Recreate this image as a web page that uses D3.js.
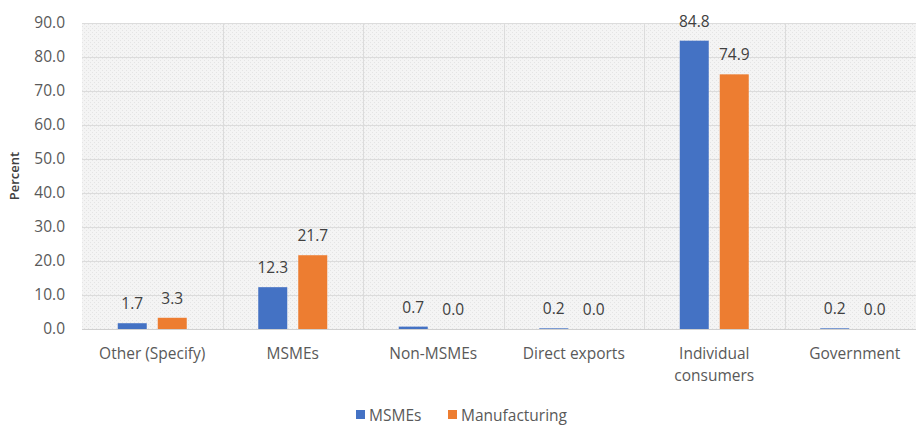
<!DOCTYPE html>
<html><head><meta charset="utf-8">
<script src="https://cdn.jsdelivr.net/npm/d3@7"></script>
<style>
html,body{margin:0;padding:0;background:#fff;}
svg{display:block;font-family:"Open Sans",sans-serif;}
</style></head>
<body><svg id="chart" width="916" height="425"></svg>
<script>
const categories = [["Other (Specify)"], ["MSMEs"], ["Non-MSMEs"], ["Direct exports"], ["Individual", "consumers"], ["Government"]];
const seriesNames = ["MSMEs", "Manufacturing"];
const msmeValues = [1.7, 12.3, 0.7, 0.2, 84.8, 0.2];
const manufacturingValues = [3.3, 21.7, 0.0, 0.0, 74.9, 0.0];
const yTicks = [0, 10, 20, 30, 40, 50, 60, 70, 80, 90];
const colors = ["#4472C4", "#ED7D31"];

const svg = d3.select("#chart");
const W = 916, H = 425;
const m = {left: 82, right: -9, top: 23, bottom: 96};
const plotW = W - m.left - m.right, plotH = H - m.top - m.bottom;
const FS = 15.5;

const defs = svg.append("defs");
const pat = defs.append("pattern").attr("id","hatch").attr("width",4).attr("height",4)
  .attr("patternUnits","userSpaceOnUse");
pat.append("rect").attr("width",4).attr("height",4).attr("fill","#f4f4f4");
pat.append("rect").attr("x",0).attr("y",0).attr("width",1).attr("height",1).attr("fill","#e4e4e4");
pat.append("rect").attr("x",2).attr("y",2).attr("width",1).attr("height",1).attr("fill","#e4e4e4");

const catKeys = categories.map(c => c.join(" "));
const x0 = d3.scaleBand().domain(catKeys).range([m.left, m.left + plotW]).padding(0);
const groupW = 69;
const x1 = d3.scaleBand().domain(seriesNames)
  .range([(x0.bandwidth() - groupW) / 2, (x0.bandwidth() + groupW) / 2])
  .paddingInner(0.275).paddingOuter(0);
const y = d3.scaleLinear().domain([0, 90]).range([m.top + plotH, m.top]);

const g = svg.append("g");
g.append("rect").attr("x", m.left).attr("y", m.top).attr("width", plotW).attr("height", plotH)
  .attr("fill", "url(#hatch)");

g.selectAll(".hg").data(yTicks).join("line")
  .attr("x1", m.left).attr("x2", m.left + plotW)
  .attr("y1", d => Math.round(y(d)) + 0.5).attr("y2", d => Math.round(y(d)) + 0.5)
  .attr("stroke", d => d === 0 ? "#d0d0d0" : "#dcdcdc").attr("stroke-width", 1);
g.selectAll(".vg").data(catKeys.slice(1)).join("line")
  .attr("x1", d => Math.round(x0(d)) + 0.5).attr("x2", d => Math.round(x0(d)) + 0.5)
  .attr("y1", m.top).attr("y2", m.top + plotH)
  .attr("stroke", "#dcdcdc");

const yAxis = d3.axisLeft(y).tickValues(yTicks).tickFormat(d3.format(".1f")).tickSize(0).tickPadding(17);
const ya = svg.append("g").attr("transform", `translate(${m.left},0)`).call(yAxis);
ya.select(".domain").remove();
ya.selectAll("text").attr("font-size", FS).attr("fill", "#595959").attr("font-family", "Open Sans, sans-serif");

svg.append("text").attr("transform", `translate(19,${m.top + plotH / 2}) rotate(-90)`)
  .attr("text-anchor", "middle").attr("font-size", 13).attr("font-weight", 600).attr("fill", "#404040")
  .text("Percent");

const data = categories.map((c, i) => ({key: catKeys[i], lines: c, vals: [msmeValues[i], manufacturingValues[i]]}));
const grp = svg.selectAll(".grp").data(data).join("g").attr("transform", d => `translate(${x0(d.key)},0)`);
grp.selectAll("rect").data(d => d.vals.map((v, j) => ({s: seriesNames[j], v, j}))).join("rect")
  .attr("x", d => x1(d.s)).attr("width", x1.bandwidth())
  .attr("y", d => y(d.v)).attr("height", d => y(0) - y(d.v))
  .attr("fill", d => colors[d.j]);
grp.selectAll(".lbl").data(d => d.vals.map((v, j) => ({s: seriesNames[j], v, j}))).join("text")
  .attr("x", d => x1(d.s) + x1.bandwidth() / 2).attr("y", d => y(d.v) - 14)
  .attr("text-anchor", "middle").attr("font-size", FS).attr("fill", "#404040")
  .text(d => d3.format(".1f")(d.v));

const cl = svg.selectAll(".cl").data(data).join("text")
  .attr("x", d => x0(d.key) + x0.bandwidth() / 2).attr("y", 359)
  .attr("text-anchor", "middle").attr("font-size", FS).attr("fill", "#595959");
cl.selectAll("tspan").data(d => d.lines).join("tspan")
  .attr("x", function(){ return d3.select(this.parentNode).attr("x"); })
  .attr("dy", (d, i) => i === 0 ? 0 : 22).text(d => d);

const leg = svg.append("g").attr("transform", "translate(356,415)");
const legItems = [{n: seriesNames[0], c: colors[0], x: 0}, {n: seriesNames[1], c: colors[1], x: 92}];
const li = leg.selectAll("g").data(legItems).join("g").attr("transform", d => `translate(${d.x},0)`);
li.append("rect").attr("x", 0).attr("y", -5).attr("width", 9).attr("height", 9).attr("fill", d => d.c);
li.append("text").attr("x", 13).attr("y", 5.5).attr("font-size", FS).attr("fill", "#595959").text(d => d.n);
</script></body></html>
